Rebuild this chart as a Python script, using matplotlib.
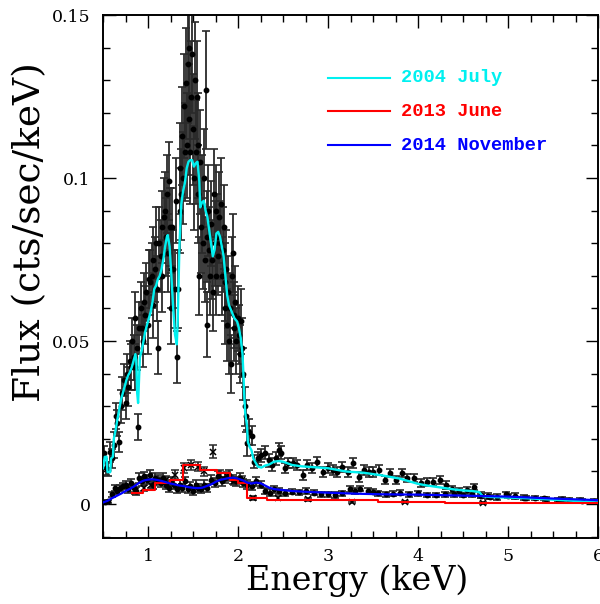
import matplotlib
matplotlib.use("Agg")
import matplotlib.pyplot as plt
from matplotlib.ticker import MultipleLocator, FixedFormatter, FixedLocator

# ---------------- data ----------------
# model 2004 July (cyan)
m04_e = [0.50,0.52,0.54,0.55,0.58,0.59,0.61,0.62,0.64,0.66,0.68,0.70,0.72,0.74,0.76,0.78,0.80,0.82,0.84,0.86,
         0.87,0.88,0.89,0.90,0.91,0.93,0.95,0.97,0.99,1.01,1.03,1.05,1.07,1.09,1.11,1.13,1.15,1.17,1.19,1.21,
         1.22,1.24,1.26,1.28,1.30,1.32,1.33,1.35,1.37,1.39,1.41,1.43,1.45,1.47,1.49,1.51,1.53,1.55,1.57,1.58,
         1.60,1.62,1.64,1.66,1.68,1.70,1.72,1.74,1.76,1.78,1.80,1.82,1.84,1.86,1.88,1.90,1.93,1.96,1.99,2.01,
         2.03,2.05,2.06,2.07,2.08,2.10,2.11,2.13,2.15,2.17,2.19,2.22,2.26,2.30,2.35,2.40,2.45,2.50,2.55,2.60,
         2.70,2.80,2.90,3.00,3.10,3.20,3.30,3.40,3.50,3.60,3.70,3.80,3.90,4.00,4.10,4.20,4.30,4.40,4.50,4.60,
         4.68,4.72,4.80,5.00,5.20,5.40,5.60,5.80,6.00]
m04_f = [0.0110,0.0145,0.0145,0.0098,0.0098,0.0140,0.0145,0.0200,0.0227,0.0260,0.0290,0.0320,0.0340,0.0360,0.0380,0.0395,0.0405,0.0420,0.0440,0.0460,
         0.0440,0.0340,0.0310,0.0380,0.0450,0.0470,0.0500,0.0530,0.0550,0.0570,0.0590,0.0620,0.0660,0.0670,0.0690,0.0700,0.0720,0.0750,0.0790,0.0820,
         0.0825,0.0790,0.0700,0.0600,0.0520,0.0490,0.0560,0.0800,0.0920,0.0960,0.0985,0.1030,0.1050,0.1055,0.1055,0.1035,0.1045,0.1050,0.0990,0.0910,
         0.0925,0.0930,0.0900,0.0880,0.0840,0.0800,0.0760,0.0780,0.0830,0.0835,0.0820,0.0790,0.0760,0.0700,0.0640,0.0610,0.0590,0.0570,0.0560,0.0540,
         0.0510,0.0460,0.0400,0.0330,0.0280,0.0240,0.0190,0.0175,0.0165,0.0140,0.0130,0.0115,0.0112,0.0118,0.0122,0.0130,0.0132,0.0130,0.0125,0.0120,
         0.0116,0.0114,0.0112,0.0110,0.0105,0.0100,0.0098,0.0096,0.0092,0.0088,0.0083,0.0078,0.0070,0.0062,0.0057,0.0053,0.0049,0.0045,0.0042,0.0040,
         0.0037,0.0024,0.0022,0.0020,0.0018,0.0015,0.0012,0.0009,0.0005]

# model 2013 June (red, histogram steps)
m13_e = [0.82,0.94,1.08,1.24,1.39,1.58,1.77,1.91,2.00,2.10,2.32,3.56,4.30,6.00]
m13_f = [0.0034,0.0043,0.0064,0.0074,0.0120,0.0104,0.0095,0.0074,0.0064,0.0018,0.0012,0.0006,0.0002,0.0002]

# model 2014 November (blue)
m14_e = [0.50,0.55,0.60,0.65,0.70,0.75,0.80,0.85,0.90,0.95,1.00,1.05,1.10,1.15,1.20,1.25,1.30,1.35,1.40,1.45,
         1.50,1.55,1.60,1.65,1.70,1.75,1.80,1.85,1.90,1.95,2.00,2.05,2.10,2.15,2.20,2.25,2.30,2.35,2.40,2.50,
         2.60,2.80,3.00,3.30,3.60,4.00,4.50,5.00,5.50,6.00]
m14_f = [0.0005,0.0010,0.0018,0.0025,0.0032,0.0040,0.0047,0.0055,0.0065,0.0072,0.0075,0.0076,0.0074,0.0071,0.0067,0.0063,0.0060,0.0057,0.0055,0.0052,
         0.0050,0.0049,0.0050,0.0055,0.0060,0.0068,0.0074,0.0077,0.0080,0.0081,0.0078,0.0073,0.0066,0.0063,0.0066,0.0064,0.0057,0.0050,0.0046,0.0043,
         0.0040,0.0037,0.0035,0.0032,0.0030,0.0029,0.0026,0.0023,0.0017,0.0012]

# observed 2004 July
d04_e = [0.51,0.53,0.56,0.58,0.60,0.62,0.64,0.66,0.68,0.70,0.71,0.73,0.75,0.77,0.78,0.80,0.81,0.82,0.84,0.85,
         0.86,0.88,0.89,0.90,0.92,0.93,0.94,0.96,0.97,0.98,1.00,1.01,1.02,1.04,1.05,1.06,1.08,1.09,1.10,1.11,
         1.12,1.14,1.15,1.16,1.18,1.19,1.20,1.21,1.22,1.23,1.24,1.25,1.26,1.27,1.28,1.30,1.31,1.32,1.33,1.35,
         1.36,1.37,1.38,1.39,1.40,1.41,1.42,1.43,1.44,1.45,1.46,1.47,1.48,1.49,1.50,1.51,1.52,1.53,1.54,1.55,
         1.56,1.57,1.58,1.59,1.60,1.61,1.62,1.63,1.64,1.65,1.66,1.67,1.68,1.69,1.70,1.71,1.72,1.73,1.74,1.75,
         1.76,1.77,1.78,1.79,1.80,1.81,1.82,1.83,1.84,1.85,1.86,1.87,1.88,1.89,1.90,1.91,1.92,1.93,1.94,1.95,
         1.96,1.97,1.98,2.00,2.01,2.02,2.03,2.04,2.06,2.08,2.09,2.10,2.12,2.15,2.18,2.22,2.26,2.30,2.34,2.38,
         2.42,2.46,2.48,2.52,2.56,2.61,2.66,2.72,2.77,2.82,2.88,2.94,3.00,3.05,3.10,3.16,3.22,3.28,3.34,3.40,
         3.45,3.50,3.57,3.63,3.69,3.76,3.82,3.88,3.95,4.03,4.10,4.17,4.24,4.31,4.38,4.46,4.54,4.62,4.70,4.78,
         4.88,4.98,5.08,5.18,5.30,5.42,5.55,5.68,5.82,5.95]
d04_f = [0.0157,0.0110,0.0105,0.0160,0.0140,0.0180,0.0270,0.0250,0.0190,0.0300,0.0340,0.0380,0.0310,0.0400,0.0360,0.0440,0.0420,0.0500,0.0450,0.0420,
         0.0570,0.0480,0.0236,0.0540,0.0600,0.0540,0.0500,0.0620,0.0580,0.0650,0.0550,0.0690,0.0680,0.0700,0.0610,0.0750,0.0720,0.0800,0.0660,0.0480,
         0.0800,0.0760,0.0850,0.0700,0.0880,0.0900,0.0820,0.0950,0.0770,0.0990,0.0850,0.0720,0.0600,0.0850,0.0720,0.0660,0.0930,0.0450,0.0660,0.0900,
         0.1030,0.0950,0.1130,0.1000,0.1220,0.1080,0.1290,0.1100,0.1350,0.1180,0.1400,0.1080,0.1250,0.1380,0.1150,0.1000,0.1300,0.1080,0.1250,0.0950,
         0.1100,0.0700,0.1050,0.0850,0.0920,0.0800,0.1000,0.0750,0.1270,0.0820,0.0550,0.0900,0.0780,0.0700,0.0860,0.0750,0.0650,0.0950,0.0800,0.0700,
         0.0900,0.0820,0.0760,0.0880,0.0800,0.0920,0.0700,0.0780,0.0850,0.0680,0.0600,0.0720,0.0550,0.0650,0.0500,0.0600,0.0430,0.0700,0.0770,0.0580,
         0.0540,0.0620,0.0500,0.0570,0.0520,0.0460,0.0560,0.0480,0.0400,0.0300,0.0270,0.0187,0.0220,0.0210,0.0130,0.0140,0.0150,0.0157,0.0135,0.0120,
         0.0140,0.0166,0.0157,0.0110,0.0125,0.0126,0.0120,0.0089,0.0120,0.0110,0.0130,0.0098,0.0110,0.0104,0.0098,0.0114,0.0098,0.0126,0.0083,0.0104,
         0.0098,0.0098,0.0104,0.0074,0.0095,0.0074,0.0095,0.0080,0.0080,0.0064,0.0067,0.0067,0.0074,0.0058,0.0045,0.0040,0.0042,0.0052,0.0028,0.0025,
         0.0022,0.0030,0.0025,0.0020,0.0018,0.0015,0.0014,0.0012,0.0010,0.0011]
d04_err = [0.002,0.002,0.002,0.003,0.003,0.004,0.004,0.004,0.003,0.005,0.005,0.005,0.005,0.006,0.006,0.006,0.007,0.007,0.007,0.007,
           0.008,0.007,0.004,0.008,0.008,0.008,0.008,0.009,0.009,0.009,0.009,0.009,0.010,0.010,0.010,0.010,0.010,0.011,0.010,0.008,
           0.011,0.011,0.011,0.011,0.012,0.012,0.012,0.012,0.012,0.012,0.012,0.012,0.011,0.012,0.012,0.012,0.013,0.008,0.012,0.013,
           0.014,0.014,0.015,0.014,0.016,0.015,0.017,0.016,0.018,0.017,0.018,0.016,0.017,0.018,0.017,0.016,0.018,0.016,0.017,0.015,
           0.016,0.012,0.016,0.014,0.015,0.014,0.015,0.013,0.018,0.014,0.010,0.014,0.013,0.012,0.013,0.012,0.012,0.014,0.013,0.012,
           0.014,0.013,0.012,0.014,0.013,0.014,0.012,0.013,0.013,0.012,0.011,0.012,0.011,0.011,0.010,0.011,0.009,0.012,0.012,0.010,
           0.010,0.011,0.010,0.010,0.009,0.009,0.010,0.009,0.008,0.006,0.005,0.004,0.004,0.003,0.002,0.002,0.002,0.002,0.002,0.002,
           0.002,0.002,0.002,0.0015,0.0015,0.0015,0.0015,0.0015,0.0015,0.0015,0.0015,0.0015,0.0015,0.0015,0.0015,0.0015,0.0015,0.0015,0.0015,0.0015,
           0.0015,0.0015,0.0015,0.0012,0.0012,0.0012,0.0012,0.0012,0.0012,0.0012,0.0012,0.0012,0.0012,0.0012,0.0010,0.0010,0.0010,0.0010,0.0008,0.0008,
           0.0008,0.0008,0.0008,0.0008,0.0006,0.0006,0.0006,0.0006,0.0006,0.0006]

# observed 2013 June (crosses)
d13_e = [0.85,0.95,1.03,1.12,1.20,1.30,1.40,1.48,1.55,1.62,1.72,1.80,1.88,1.96,2.05,2.17,2.44,2.78,3.27,3.86,4.72]
d13_f = [0.0040,0.0050,0.0060,0.0070,0.0075,0.0090,0.0110,0.0120,0.0115,0.0100,0.0160,0.0090,0.0085,0.0070,0.0075,0.0020,0.0018,0.0015,0.0006,0.0006,0.0003]
d13_err = [0.0010,0.0010,0.0012,0.0012,0.0012,0.0014,0.0015,0.0016,0.0015,0.0015,0.0020,0.0014,0.0013,0.0012,0.0012,0.0006,0.0006,0.0005,0.0004,0.0004,0.0004]

# observed 2014 November (dots)
d14_e = [0.52,0.56,0.60,0.63,0.66,0.69,0.72,0.75,0.78,0.81,0.84,0.87,0.90,0.93,0.96,0.99,1.02,1.05,1.08,1.11,
         1.14,1.17,1.20,1.23,1.26,1.29,1.32,1.35,1.38,1.41,1.44,1.47,1.50,1.53,1.56,1.59,1.62,1.66,1.70,1.74,
         1.78,1.82,1.86,1.90,1.94,1.98,2.02,2.06,2.10,2.15,2.20,2.25,2.30,2.35,2.40,2.45,2.52,2.60,2.68,2.76,
         2.84,2.92,3.00,3.08,3.16,3.24,3.30,3.36,3.44,3.50,3.56,3.64,3.72,3.80,3.90,4.00,4.10,4.20,4.30,4.40,
         4.50,4.60,4.70,4.80,5.00,5.20,5.40,5.60,5.80]
d14_f = [0.0005,0.0008,0.0030,0.0050,0.0040,0.0050,0.0055,0.0060,0.0045,0.0065,0.0050,0.0040,0.0080,0.0070,0.0085,0.0075,0.0090,0.0060,0.0080,0.0075,
         0.0065,0.0080,0.0060,0.0050,0.0070,0.0060,0.0045,0.0060,0.0050,0.0070,0.0045,0.0055,0.0040,0.0060,0.0050,0.0045,0.0060,0.0050,0.0075,0.0065,
         0.0085,0.0070,0.0080,0.0090,0.0075,0.0070,0.0080,0.0065,0.0060,0.0055,0.0070,0.0060,0.0040,0.0035,0.0045,0.0040,0.0035,0.0038,0.0036,0.0040,
         0.0035,0.0030,0.0030,0.0028,0.0033,0.0045,0.0040,0.0047,0.0040,0.0038,0.0033,0.0030,0.0032,0.0035,0.0030,0.0033,0.0028,0.0028,0.0030,0.0030,
         0.0028,0.0030,0.0025,0.0023,0.0025,0.0020,0.0018,0.0016,0.0013]
d14_err = [0.0006,0.0006,0.0008,0.0010,0.0010,0.0010,0.0010,0.0012,0.0010,0.0012,0.0012,0.0012,0.0014,0.0014,0.0014,0.0014,0.0015,0.0014,0.0015,0.0014,
           0.0014,0.0015,0.0014,0.0013,0.0014,0.0014,0.0012,0.0013,0.0013,0.0014,0.0012,0.0013,0.0012,0.0013,0.0012,0.0012,0.0013,0.0013,0.0014,0.0014,
           0.0015,0.0014,0.0015,0.0015,0.0014,0.0014,0.0014,0.0013,0.0013,0.0012,0.0013,0.0012,0.0010,0.0010,0.0010,0.0009,0.0009,0.0008,0.0008,0.0008,
           0.0008,0.0008,0.0008,0.0008,0.0008,0.0009,0.0008,0.0008,0.0008,0.0008,0.0008,0.0008,0.0008,0.0008,0.0007,0.0007,0.0007,0.0007,0.0007,0.0007,
           0.0007,0.0007,0.0006,0.0006,0.0006,0.0006,0.0005,0.0005,0.0005]

legend_labels = ["2004 July", "2013 June", "2014 November"]
legend_colors = ["#00f0f0", "#ff0000", "#0000ff"]

x_ticks = [1, 2, 3, 4, 5, 6]
x_ticklabels = ["1", "2", "3", "4", "5", "6"]
y_ticks = [0, 0.05, 0.1, 0.15]
y_ticklabels = ["0", "0.05", "0.1", "0.15"]

# ---------------- figure ----------------
fig = plt.figure(figsize=(6.0, 6.04), dpi=100)
ax = fig.add_axes([103/600, 1-538/604, 495/600, 523/604])

ekw = dict(fmt='o', ms=3.2, color='black', ecolor='#2a2a2a', elinewidth=1.3,
           capsize=3.0, capthick=1.2, zorder=2)
ax.errorbar(d04_e, d04_f, yerr=d04_err, **ekw)
ax.errorbar(d14_e, d14_f, yerr=d14_err, **ekw)
ax.errorbar(d13_e, d13_f, yerr=d13_err, fmt='x', ms=5, mew=1.1, color='black',
            ecolor='#2a2a2a', elinewidth=1.3, capsize=3.0, capthick=1.2, zorder=2)

ax.plot(m04_e, m04_f, color=legend_colors[0], lw=1.7, zorder=3)
ax.plot(m13_e, m13_f, color=legend_colors[1], lw=1.5, drawstyle='steps-post', zorder=3)
ax.plot(m14_e, m14_f, color=legend_colors[2], lw=1.6, zorder=3)

ax.set_xlim(0.5, 6.0)
ax.set_ylim(-0.0104, 0.15)

ax.xaxis.set_major_locator(FixedLocator(x_ticks))
ax.xaxis.set_major_formatter(FixedFormatter(x_ticklabels))
ax.xaxis.set_minor_locator(MultipleLocator(0.25))
ax.yaxis.set_major_locator(FixedLocator(y_ticks))
ax.yaxis.set_major_formatter(FixedFormatter(y_ticklabels))
ax.yaxis.set_minor_locator(MultipleLocator(0.01))

ax.tick_params(which='both', direction='in', top=True, right=True, width=1.0, color='black')
ax.tick_params(which='major', length=9)
ax.tick_params(axis='x', which='major', pad=7)
ax.tick_params(axis='y', which='major', pad=9)
ax.tick_params(which='minor', length=5)
for lab in ax.get_xticklabels() + ax.get_yticklabels():
    lab.set_fontfamily('DejaVu Serif')
    lab.set_fontsize(12.5)
for sp in ax.spines.values():
    sp.set_linewidth(1.4)

fig.text(357/600, 1-581/604, "Energy (keV)", family='DejaVu Serif', fontsize=24,
         ha='center', va='center')
fig.text(30/600, 1-232/604, "Flux (cts/sec/keV)", family='DejaVu Serif', fontsize=27,
         ha='center', va='center', rotation=90)

# legend drawn as lines + coloured text
leg_y = [0.1307, 0.1205, 0.1101]
for lab, col, yy in zip(legend_labels, legend_colors, leg_y):
    ax.plot([3.0, 3.69], [yy, yy], color=col, lw=1.5, zorder=4)
    ax.text(3.81, yy, lab, color=col, family='Liberation Mono', fontweight='bold',
            fontsize=13.5, ha='left', va='center', zorder=4)

fig.savefig("out.png", dpi=100)
